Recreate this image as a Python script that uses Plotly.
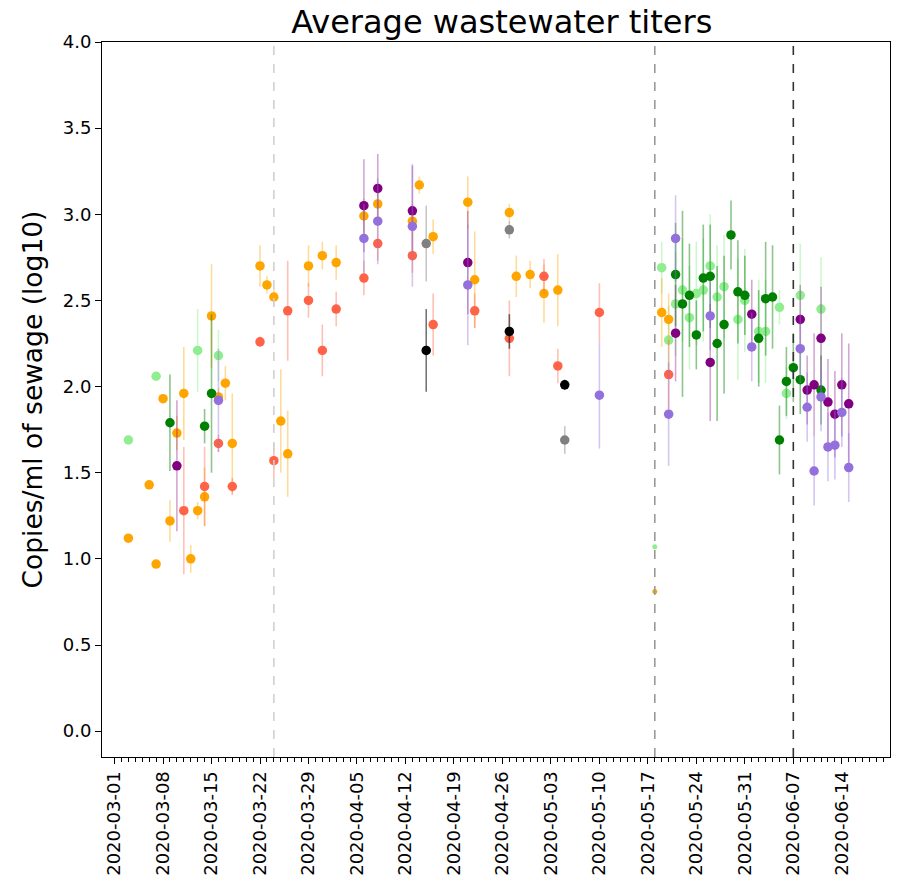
import plotly.graph_objects as go
import pandas as pd

# ---- data ----
lightgreen_dates = ["2020-03-03", "2020-03-07", "2020-03-13", "2020-03-16", "2020-05-19", "2020-05-20",
                    "2020-05-21", "2020-05-22", "2020-05-23", "2020-05-24", "2020-05-25", "2020-05-26",
                    "2020-05-27", "2020-05-28", "2020-05-30", "2020-05-31", "2020-06-02", "2020-06-03",
                    "2020-06-05", "2020-06-06", "2020-06-08", "2020-06-11"]
lightgreen_vals = [1.69, 2.06, 2.21, 2.18, 2.69, 2.27, 2.48, 2.56, 2.40, 2.54, 2.56, 2.70,
                   2.52, 2.58, 2.39, 2.50, 2.32, 2.32, 2.46, 1.96, 2.53, 2.45]
lightgreen_err = [0.0, 0.0, 0.24, 0.15, 0.15, 0.2, 0.3, 0.3, 0.3, 0.3, 0.3, 0.3,
                  0.3, 0.3, 0.35, 0.3, 0.3, 0.3, 0.1, 0.15, 0.3, 0.3]

orange_dates = ["2020-03-03", "2020-03-06", "2020-03-07", "2020-03-08", "2020-03-09", "2020-03-10",
                "2020-03-11", "2020-03-12", "2020-03-13", "2020-03-14", "2020-03-15", "2020-03-16",
                "2020-03-17", "2020-03-18", "2020-03-22", "2020-03-23", "2020-03-24", "2020-03-25",
                "2020-03-26", "2020-03-29", "2020-03-31", "2020-04-02", "2020-04-06", "2020-04-08",
                "2020-04-13", "2020-04-14", "2020-04-16", "2020-04-21", "2020-04-22", "2020-04-27",
                "2020-04-28", "2020-04-30", "2020-05-02", "2020-05-04", "2020-05-19", "2020-05-20"]
orange_vals = [1.12, 1.43, 0.97, 1.93, 1.22, 1.73, 1.96, 1.00, 1.28, 1.36, 2.41, 1.94,
               2.02, 1.67, 2.70, 2.59, 2.52, 1.80, 1.61, 2.70, 2.76, 2.72, 2.99, 3.06,
               2.96, 3.17, 2.87, 3.07, 2.62, 3.01, 2.64, 2.65, 2.54, 2.56, 2.43, 2.39]
orange_err = [0.0, 0.0, 0.0, 0.0, 0.12, 0.1, 0.27, 0.08, 0.05, 0.17, 0.3, 0.05,
              0.1, 0.29, 0.12, 0.05, 0.05, 0.3, 0.25, 0.12, 0.08, 0.1, 0.1, 0.1,
              0.1, 0.05, 0.1, 0.15, 0.28, 0.05, 0.12, 0.08, 0.17, 0.21, 0.2, 0.15]

green_dates = ["2020-03-09", "2020-03-14", "2020-03-15", "2020-05-21", "2020-05-22", "2020-05-23",
               "2020-05-24", "2020-05-25", "2020-05-26", "2020-05-27", "2020-05-28", "2020-05-29",
               "2020-05-30", "2020-05-31", "2020-06-02", "2020-06-03", "2020-06-04", "2020-06-05",
               "2020-06-06", "2020-06-07", "2020-06-08", "2020-06-11"]
green_vals = [1.79, 1.77, 1.96, 2.65, 2.48, 2.53, 2.30, 2.63, 2.64, 2.25, 2.36, 2.88,
              2.55, 2.53, 2.28, 2.51, 2.52, 1.69, 2.03, 2.11, 2.04, 1.98]
green_err = [0.28, 0.1, 0.46, 0.3, 0.54, 0.3, 0.2, 0.31, 0.3, 0.45, 0.4, 0.2,
             0.3, 0.23, 0.28, 0.33, 0.3, 0.2, 0.2, 0.2, 0.2, 0.2]

purple_dates = ["2020-03-10", "2020-04-06", "2020-04-08", "2020-04-13", "2020-04-21", "2020-05-21",
                "2020-05-26", "2020-06-01", "2020-06-08", "2020-06-09", "2020-06-10", "2020-06-11",
                "2020-06-12", "2020-06-13", "2020-06-14", "2020-06-15"]
purple_vals = [1.54, 3.05, 3.15, 3.02, 2.72, 2.31, 2.14, 2.42, 2.39, 1.98, 2.01, 2.28,
               1.91, 1.84, 2.01, 1.90]
purple_err = [0.38, 0.27, 0.2, 0.27, 0.3, 0.28, 0.34, 0.2, 0.2, 0.2, 0.3, 0.3,
              0.25, 0.25, 0.3, 0.35]

tomato_dates = ["2020-03-11", "2020-03-14", "2020-03-16", "2020-03-18", "2020-03-22", "2020-03-24",
                "2020-03-26", "2020-03-29", "2020-03-31", "2020-04-02", "2020-04-06", "2020-04-08",
                "2020-04-13", "2020-04-16", "2020-04-22", "2020-04-27", "2020-05-02", "2020-05-04",
                "2020-05-10", "2020-05-20"]
tomato_vals = [1.28, 1.42, 1.67, 1.42, 2.26, 1.57, 2.44, 2.50, 2.21, 2.45, 2.63, 2.83,
               2.76, 2.36, 2.44, 2.28, 2.64, 2.12, 2.43, 2.07]
tomato_err = [0.37, 0.23, 0.05, 0.05, 0.03, 0.1, 0.29, 0.1, 0.15, 0.1, 0.1, 0.1,
              0.1, 0.18, 0.1, 0.22, 0.1, 0.1, 0.17, 0.2]

mpurple_dates = ["2020-03-16", "2020-04-06", "2020-04-08", "2020-04-13", "2020-04-21", "2020-05-10",
                 "2020-05-20", "2020-05-21", "2020-05-26", "2020-06-01", "2020-06-08", "2020-06-09",
                 "2020-06-10", "2020-06-11", "2020-06-12", "2020-06-13", "2020-06-14", "2020-06-15"]
mpurple_vals = [1.92, 2.86, 2.96, 2.93, 2.59, 1.95, 1.84, 2.86, 2.41, 2.23, 2.22, 1.88,
                1.51, 1.94, 1.65, 1.66, 1.85, 1.53]
mpurple_err = [0.3, 0.2, 0.25, 0.35, 0.35, 0.31, 0.3, 0.25, 0.2, 0.2, 0.2, 0.2,
               0.2, 0.2, 0.2, 0.2, 0.2, 0.2]

gray_dates = ["2020-04-15", "2020-04-27", "2020-05-05"]
gray_vals = [2.83, 2.91, 1.69]
gray_err = [0.22, 0.05, 0.08]

black_dates = ["2020-04-15", "2020-04-27", "2020-05-05"]
black_vals = [2.21, 2.32, 2.01]
black_err = [0.24, 0.1, 0.03]

small_dates = ["2020-05-18", "2020-05-18"]
small_vals = [1.07, 0.81]
small_colors = ["#90EE90", "#FFA500"]

vline_dates = ["2020-03-24", "2020-05-18", "2020-06-07"]
vline_colors = ["#d0d0d0", "#999999", "#333333"]

x_tick_labels = ["2020-03-01", "2020-03-08", "2020-03-15", "2020-03-22", "2020-03-29", "2020-04-05",
                 "2020-04-12", "2020-04-19", "2020-04-26", "2020-05-03", "2020-05-10", "2020-05-17",
                 "2020-05-24", "2020-05-31", "2020-06-07", "2020-06-14"]
y_ticks = [0.0, 0.5, 1.0, 1.5, 2.0, 2.5, 3.0, 3.5, 4.0]
minor_days = [d.strftime("%Y-%m-%d") for d in pd.date_range("2020-03-01", "2020-06-20", freq="D")]

series = [
    (lightgreen_dates, lightgreen_vals, lightgreen_err, "#90EE90", "rgba(144,238,144,0.45)"),
    (orange_dates, orange_vals, orange_err, "#FFA500", "rgba(255,165,0,0.4)"),
    (green_dates, green_vals, green_err, "#008000", "rgba(0,128,0,0.45)"),
    (purple_dates, purple_vals, purple_err, "#800080", "rgba(128,0,128,0.35)"),
    (tomato_dates, tomato_vals, tomato_err, "#FF6347", "rgba(255,99,71,0.4)"),
    (mpurple_dates, mpurple_vals, mpurple_err, "#9370DB", "rgba(147,112,219,0.4)"),
    (gray_dates, gray_vals, gray_err, "#808080", "rgba(128,128,128,0.45)"),
    (black_dates, black_vals, black_err, "#000000", "rgba(0,0,0,0.55)"),
]

fig = go.Figure()
for d, v, e, c, ec in series:
    fig.add_trace(go.Scatter(
        x=d, y=v, mode="markers",
        marker=dict(color=c, size=9.5, line=dict(width=0)),
        error_y=dict(type="data", array=e, visible=True, color=ec, thickness=1.6, width=0),
        showlegend=False,
    ))

fig.add_trace(go.Scatter(
    x=small_dates, y=small_vals, mode="markers",
    marker=dict(color=small_colors, size=5, line=dict(width=0)),
    showlegend=False,
))

for vd, vc in zip(vline_dates, vline_colors):
    fig.add_shape(type="line", xref="x", yref="paper", x0=vd, x1=vd, y0=0, y1=1,
                  line=dict(color=vc, width=1.6, dash="dash"), layer="above")

fig.update_layout(
    width=906, height=895,
    margin=dict(l=94, r=24, t=34, b=146),
    plot_bgcolor="white", paper_bgcolor="white",
    font=dict(family="DejaVu Sans", color="black", size=18),
    title=dict(text="Average wastewater titers", x=0.545, xanchor="center",
               y=1 - 14 / 895, yanchor="middle", yref="container",
               font=dict(size=32, family="DejaVu Sans")),
)

fig.update_xaxes(
    type="date", automargin=False,
    range=["2020-02-28 04:30", "2020-06-20 23:00"],
    tickvals=x_tick_labels, ticktext=x_tick_labels,
    tickangle=-90, ticks="outside", ticklen=6, tickcolor="black",
    tickfont=dict(size=18),
    minor=dict(tickvals=minor_days, ticks="outside", ticklen=4, tickcolor="black"),
    showline=True, linecolor="black", linewidth=1, mirror=True,
    showgrid=False, zeroline=False,
)
fig.update_yaxes(
    automargin=False,
    range=[-0.15, 4.0],
    tickvals=y_ticks, tickformat=".1f",
    ticks="outside", ticklen=6, tickcolor="black",
    tickfont=dict(size=18),
    title=dict(text="Copies/ml of sewage (log10)", font=dict(size=26.5), standoff=12),
    showline=True, linecolor="black", linewidth=1, mirror=True,
    showgrid=False, zeroline=False,
)

fig.write_html("out.html")
